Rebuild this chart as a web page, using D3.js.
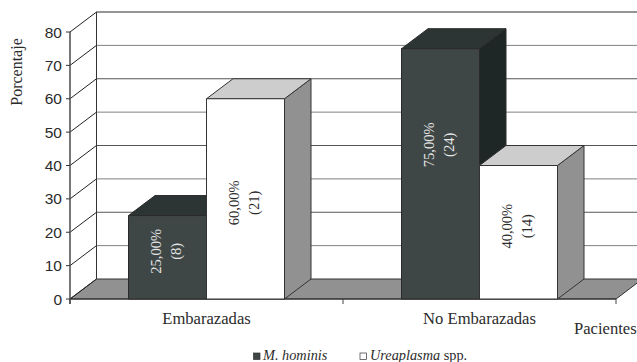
<!DOCTYPE html>
<html>
<head>
<meta charset="utf-8">
<script src="https://cdn.jsdelivr.net/npm/d3@7"></script>
<style>
html,body{margin:0;padding:0;background:#fff;overflow:hidden}
svg{display:block}
.serif{font-family:"Liberation Serif",serif;fill:#2b2b2b}
</style>
</head>
<body>
<svg id="chart" width="637" height="362"></svg>
<script>
// Percentages of patients per group and organism, with patient counts
const categories = ["Embarazadas", "No Embarazadas"];
const seriesNames = ["M. hominis", "Ureaplasma"];
const mHominis = [25, 75];
const ureaplasma = [60, 40];
const mHominisCounts = [8, 24];
const ureaplasmaCounts = [21, 14];
const yTicks = [0, 10, 20, 30, 40, 50, 60, 70, 80];

// Layout of the pseudo-3D box
const plot = {left: 70, right: 616, bottom: 299, top: 32};
const depth = {dx: 26.5, dy: -20};
const labelShift = [[-6, 4], [-29, -6]]; // vertical nudge of the rotated labels

const svg = d3.select("#chart");
const y = d3.scaleLinear().domain([0, 80]).range([plot.bottom, plot.top]);
const x0 = d3.scaleBand().domain(categories).range([plot.left, plot.right]);
const x1 = d3.scaleBand().domain(seriesNames)
  .range([58.5, x0.bandwidth() - 58.5]);

const line = (x1_, y1_, x2_, y2_, color, w) => svg.append("line")
  .attr("x1", x1_).attr("y1", y1_).attr("x2", x2_).attr("y2", y2_)
  .attr("stroke", color).attr("stroke-width", w);
const poly = (pts, fill, stroke) => svg.append("polygon")
  .attr("points", pts.map(p => p.join(",")).join(" "))
  .attr("fill", fill).attr("stroke", stroke).attr("stroke-width", 1)
  .attr("stroke-linejoin", "round");

// Floor
const fl = plot.left, fr = plot.right, fb = y(0);
poly([[fl, fb], [fl + depth.dx, fb + depth.dy], [fr + depth.dx, fb + depth.dy], [fr, fb]], "#919191", "#333");

// Back wall gridlines and the diagonals on the side wall
yTicks.forEach(t => {
  const yy = y(t);
  if (t > 0) line(fl + depth.dx, yy + depth.dy, 637, yy + depth.dy, t === 80 ? "#2a2a2a" : (t % 20 === 0 ? "#555" : "#808080"), 1);
  line(fl, yy, fl + depth.dx, yy + depth.dy, "#222", 1);
});
line(fl + depth.dx, y(80) + depth.dy, fl + depth.dx, y(0) + depth.dy, "#333", 1);

// Value axis
line(fl, y(80), fl, y(0) + 5, "#555", 1.6);
const yAxis = svg.append("g").selectAll("g").data(yTicks).join("g");
yAxis.append("line")
  .attr("x1", fl - 4).attr("x2", fl)
  .attr("y1", d => y(d)).attr("y2", d => y(d))
  .attr("stroke", "#333");
yAxis.append("text")
  .attr("x", fl - 8).attr("y", d => y(d) + 5.5)
  .attr("text-anchor", "end")
  .attr("font-family", "Liberation Sans, Arial, sans-serif")
  .attr("font-size", 15.5).attr("fill", "#2b2b2b")
  .text(d => d);

// Category axis
line(fl, fb, fr, fb, "#2a2a2a", 1.2);
[plot.left, x0(categories[1]), plot.right].forEach(v => line(v, fb, v, fb + 5, "#444", 1));

// Bars drawn left to right: side face, top face, then front face
const styles = {
  "M. hominis": {front: "#3f4746", top: "#2d3434", side: "#1f2626", edge: "#2a2a2a", label: "#e6e6e6"},
  "Ureaplasma": {front: "#ffffff", top: "#cdcdcd", side: "#919191", edge: "#333", label: "#2b2b2b"}
};
const bars = [];
categories.forEach((c, i) => {
  bars.push({c, s: seriesNames[0], v: mHominis[i], n: mHominisCounts[i], shift: labelShift[i][0]});
  bars.push({c, s: seriesNames[1], v: ureaplasma[i], n: ureaplasmaCounts[i], shift: labelShift[i][1]});
});
bars.forEach(b => {
  const st = styles[b.s];
  const l = x0(b.c) + x1(b.s), r = l + x1.bandwidth(), t = y(b.v), bt = y(0);
  poly([[r, t], [r + depth.dx, t + depth.dy], [r + depth.dx, bt + depth.dy], [r, bt]], st.side, st.edge);
  poly([[l, t], [l + depth.dx, t + depth.dy], [r + depth.dx, t + depth.dy], [r, t]], st.top, st.edge);
  poly([[l, t], [r, t], [r, bt], [l, bt]], st.front, st.edge);
});

// Rotated value labels, drawn over every bar
bars.forEach(b => {
  const st = styles[b.s];
  const cx = x0(b.c) + x1(b.s) + x1.bandwidth() / 2 - 2;
  const cy = (y(b.v) + y(0)) / 2 + b.shift;
  const pct = d3.format(".2f")(b.v).replace(".", ",") + "%";
  [[pct, -10], ["(" + b.n + ")", 10]].forEach(([txt, off]) => {
    svg.append("text")
      .attr("class", "serif")
      .attr("transform", `translate(${cx + off},${cy}) rotate(-90)`)
      .attr("text-anchor", "middle").attr("dy", "0.35em")
      .attr("font-size", 14.5)
      .style("fill", st.label)
      .text(txt);
  });
});

// Category and axis titles
categories.forEach(c => {
  svg.append("text").attr("class", "serif")
    .attr("x", x0(c) + x0.bandwidth() / 2).attr("y", 324)
    .attr("text-anchor", "middle").attr("font-size", 16.6)
    .text(c);
});
svg.append("text").attr("class", "serif")
  .attr("x", 574).attr("y", 334).attr("font-size", 16.6).text("Pacientes");
svg.append("text").attr("class", "serif")
  .attr("transform", "translate(22,72) rotate(-90)")
  .attr("text-anchor", "middle").attr("font-size", 16)
  .text("Porcentaje");

// Legend
svg.append("rect").attr("x", 253.5).attr("y", 353).attr("width", 6.5).attr("height", 6.5)
  .attr("fill", styles["M. hominis"].front).attr("stroke", "#333").attr("stroke-width", 0.7);
svg.append("text").attr("class", "serif")
  .attr("x", 263).attr("y", 360).attr("font-size", 14.3).attr("font-style", "italic")
  .text(seriesNames[0]);
svg.append("rect").attr("x", 360).attr("y", 353).attr("width", 6.5).attr("height", 6.5)
  .attr("fill", styles["Ureaplasma"].front).attr("stroke", "#333").attr("stroke-width", 0.7);
const lg = svg.append("text").attr("class", "serif")
  .attr("x", 370).attr("y", 360).attr("font-size", 14.3);
lg.append("tspan").attr("font-style", "italic").text(seriesNames[1]);
lg.append("tspan").text(" spp.");
</script>
</body>
</html>
